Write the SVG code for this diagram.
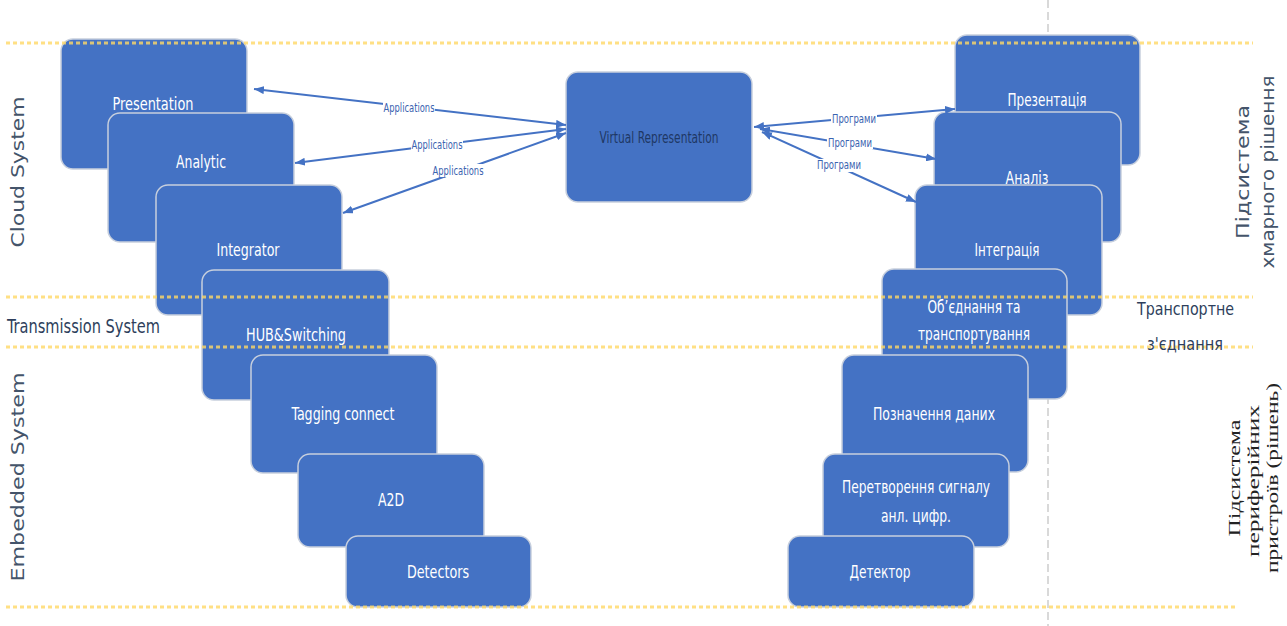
<svg xmlns="http://www.w3.org/2000/svg" width="1287" height="626" viewBox="0 0 1287 626">
<style>
.box{fill:#4472c4;stroke:#c7cfdd;stroke-width:1.5}
.t{font-family:"Liberation Sans Narrow","DejaVu Sans Condensed","Liberation Sans",sans-serif;font-size:17px;fill:#ffffff;text-anchor:middle}
.vr{font-family:"Liberation Sans Narrow","DejaVu Sans Condensed","Liberation Sans",sans-serif;font-size:15px;fill:#1f3864;text-anchor:middle}
.conn{stroke:#4472c4;stroke-width:2;fill:none;marker-start:url(#ah);marker-end:url(#ah)}
.lbl{font-family:"Liberation Sans Narrow","DejaVu Sans Condensed","Liberation Sans",sans-serif;font-size:12px;fill:#3b64b0;text-anchor:middle}
.lblbg{fill:#ffffff}
.dot{stroke:#ffd966;stroke-width:3;stroke-dasharray:4 3;opacity:0.8}
.side{font-family:"DejaVu Sans",sans-serif;font-size:17px;fill:#44546a;text-anchor:middle}
.sideN{font-family:"Liberation Sans Narrow","DejaVu Sans Condensed","Liberation Sans",sans-serif;font-size:19px;fill:#2e3f5c}
.serif{font-family:"Liberation Serif","DejaVu Serif",serif;font-size:17px;fill:#222222;text-anchor:middle}
</style>
<defs>
<marker id="ah" viewBox="0 0 10 8" refX="10" refY="4" markerWidth="10" markerHeight="8" markerUnits="userSpaceOnUse" orient="auto-start-reverse">
<path d="M0,0 L10,4 L0,8 Z" fill="#4472c4"/>
</marker>
</defs>
<rect width="1287" height="626" fill="#ffffff"/>
<line x1="1048" y1="0" x2="1048" y2="626" stroke="#c0c0c0" stroke-width="1.2" stroke-dasharray="8 4"/>

<g id="left-nodes">
<g id="presentation"><rect class="box" x="61" y="39" width="186" height="130" rx="12"/><text class="t" x="153" y="110" textLength="81" lengthAdjust="spacingAndGlyphs">Presentation</text></g>
<g id="analytic"><rect class="box" x="108" y="113" width="186" height="129" rx="12"/><text class="t" x="201" y="168" textLength="50" lengthAdjust="spacingAndGlyphs">Analytic</text></g>
<g id="integrator"><rect class="box" x="156" y="185" width="186" height="130" rx="12"/><text class="t" x="248" y="256" textLength="63" lengthAdjust="spacingAndGlyphs">Integrator</text></g>
<g id="hub"><rect class="box" x="202" y="270" width="187" height="130" rx="12"/><text class="t" x="296" y="341" textLength="100" lengthAdjust="spacingAndGlyphs">HUB&amp;Switching</text></g>
<g id="tagging"><rect class="box" x="251" y="355" width="186" height="118" rx="12"/><text class="t" x="343" y="420" textLength="103" lengthAdjust="spacingAndGlyphs">Tagging connect</text></g>
<g id="a2d"><rect class="box" x="298" y="454" width="186" height="93" rx="12"/><text class="t" x="391" y="506" textLength="26" lengthAdjust="spacingAndGlyphs">A2D</text></g>
<g id="detectors"><rect class="box" x="346" y="536" width="185" height="71" rx="12"/><text class="t" x="438" y="578" textLength="62" lengthAdjust="spacingAndGlyphs">Detectors</text></g>
</g>

<g id="virtual-representation"><rect class="box" x="566" y="72" width="186" height="130" rx="12"/><text class="vr" x="659" y="143" textLength="119" lengthAdjust="spacingAndGlyphs">Virtual Representation</text></g>

<g id="right-nodes">
<g id="prezentatsiia"><rect class="box" x="955" y="35" width="185" height="130" rx="12"/><text class="t" x="1047" y="106" textLength="79" lengthAdjust="spacingAndGlyphs">Презентація</text></g>
<g id="analiz"><rect class="box" x="934" y="112" width="187" height="130" rx="12"/><text class="t" x="1027" y="184" textLength="43" lengthAdjust="spacingAndGlyphs">Аналіз</text></g>
<g id="intehratsiia"><rect class="box" x="915" y="185" width="187" height="130" rx="12"/><text class="t" x="1007" y="256" textLength="65" lengthAdjust="spacingAndGlyphs">Інтеграція</text></g>
<g id="obiednannia"><rect class="box" x="882" y="269" width="185" height="130" rx="12"/><text class="t" x="974" y="313" textLength="93" lengthAdjust="spacingAndGlyphs">Об’єднання та</text><text class="t" x="974" y="340" textLength="112" lengthAdjust="spacingAndGlyphs">транспортування</text></g>
<g id="poznachennia"><rect class="box" x="842" y="355" width="186" height="117" rx="12"/><text class="t" x="934" y="420" textLength="122" lengthAdjust="spacingAndGlyphs">Позначення даних</text></g>
<g id="peretvorennia"><rect class="box" x="823" y="454" width="186" height="93" rx="12"/><text class="t" x="916" y="493" textLength="148" lengthAdjust="spacingAndGlyphs">Перетворення сигналу</text><text class="t" x="916" y="522" textLength="70" lengthAdjust="spacingAndGlyphs">анл. цифр.</text></g>
<g id="detektor"><rect class="box" x="788" y="536" width="186" height="71" rx="12"/><text class="t" x="880" y="578" textLength="61" lengthAdjust="spacingAndGlyphs">Детектор</text></g>
</g>

<g id="connectors">
<line class="conn" x1="566" y1="125" x2="254" y2="89"/>
<line class="conn" x1="566" y1="129" x2="295" y2="163"/>
<line class="conn" x1="566" y1="133" x2="343" y2="213"/>
<line class="conn" x1="754" y1="127" x2="955" y2="109"/>
<line class="conn" x1="760" y1="129" x2="936" y2="159"/>
<line class="conn" x1="762" y1="132" x2="916" y2="202"/>
<rect class="lblbg" x="383" y="101" width="52" height="12"/><text class="lbl" x="409" y="112" textLength="51" lengthAdjust="spacingAndGlyphs">Applications</text>
<rect class="lblbg" x="411" y="139" width="52" height="12"/><text class="lbl" x="437" y="149" textLength="51" lengthAdjust="spacingAndGlyphs">Applications</text>
<rect class="lblbg" x="432" y="164" width="52" height="13"/><text class="lbl" x="458" y="175" textLength="51" lengthAdjust="spacingAndGlyphs">Applications</text>
<rect class="lblbg" x="831" y="113" width="46" height="12"/><text class="lbl" x="854" y="123" textLength="44" lengthAdjust="spacingAndGlyphs">Програми</text>
<rect class="lblbg" x="827" y="137" width="46" height="12"/><text class="lbl" x="850" y="147" textLength="44" lengthAdjust="spacingAndGlyphs">Програми</text>
<rect class="lblbg" x="816" y="159" width="46" height="13"/><text class="lbl" x="839" y="169" textLength="44" lengthAdjust="spacingAndGlyphs">Програми</text>
</g>

<g id="bands">
<line class="dot" x1="6" y1="43" x2="1253" y2="43"/>
<line class="dot" x1="6" y1="297" x2="1253" y2="297"/>
<line class="dot" x1="6" y1="347" x2="1253" y2="347"/>
<line class="dot" x1="6" y1="607" x2="1238" y2="607"/>
</g>

<g id="side-labels">
<text class="side" transform="translate(24,172) rotate(-90)" textLength="151" lengthAdjust="spacingAndGlyphs">Cloud System</text>
<text class="side" transform="translate(24,477) rotate(-90)" textLength="209" lengthAdjust="spacingAndGlyphs">Embedded System</text>
<text class="sideN" x="7" y="333" textLength="153" lengthAdjust="spacingAndGlyphs">Transmission System</text>
<text class="side" transform="translate(1249,172) rotate(-90)" textLength="134" lengthAdjust="spacingAndGlyphs">Підсистема</text>
<text class="side" transform="translate(1274,172) rotate(-90)" textLength="193" lengthAdjust="spacingAndGlyphs">хмарного рішення</text>
<text class="sideN" x="1137" y="315" style="font-size:18px" textLength="97" lengthAdjust="spacingAndGlyphs">Транспортне</text>
<text class="sideN" x="1147" y="350" style="font-size:18px" textLength="76" lengthAdjust="spacingAndGlyphs">з'єднання</text>
<text class="serif" transform="translate(1240,478) rotate(-90)" textLength="117" lengthAdjust="spacingAndGlyphs">Підсистема</text>
<text class="serif" transform="translate(1259,481) rotate(-90)" textLength="152" lengthAdjust="spacingAndGlyphs">периферійних</text>
<text class="serif" transform="translate(1278,478) rotate(-90)" textLength="190" lengthAdjust="spacingAndGlyphs">пристроїв (рішень)</text>
</g>
</svg>
